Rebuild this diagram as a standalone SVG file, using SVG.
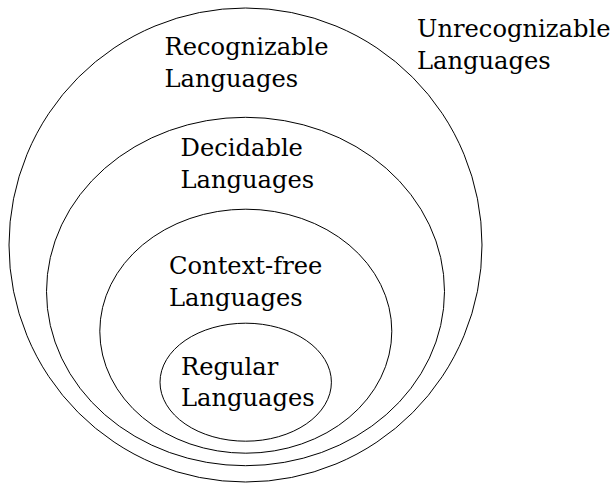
<svg xmlns="http://www.w3.org/2000/svg" width="616" height="483" viewBox="0 0 616 483">
  <style>
    .set { fill: none; stroke: #000; stroke-width: 1; }
    .lbl { font-family: "DejaVu Serif", serif; font-size: 24.2px; fill: #000; }
  </style>
  <rect width="616" height="483" fill="#fff"/>
  <g id="unrecognizable">
    <text class="lbl" x="417" y="37">Unrecognizable</text>
    <text class="lbl" x="417" y="69">Languages</text>
  </g>
  <g id="recognizable">
    <ellipse class="set" cx="245.5" cy="245" rx="236.5" ry="237"/>
    <text class="lbl" x="164.5" y="55">Recognizable</text>
    <text class="lbl" x="164.5" y="87">Languages</text>
  </g>
  <g id="decidable">
    <ellipse class="set" cx="245.5" cy="291.5" rx="199" ry="174.2"/>
    <text class="lbl" x="180.5" y="156">Decidable</text>
    <text class="lbl" x="180.5" y="188">Languages</text>
  </g>
  <g id="context-free">
    <ellipse class="set" cx="245.8" cy="331.2" rx="146" ry="122"/>
    <text class="lbl" x="169" y="274">Context-free</text>
    <text class="lbl" x="169" y="306">Languages</text>
  </g>
  <g id="regular">
    <ellipse class="set" cx="245.7" cy="382.2" rx="85.7" ry="59"/>
    <text class="lbl" x="181" y="375">Regular</text>
    <text class="lbl" x="181" y="406">Languages</text>
  </g>
  <g id="connectors"/>
</svg>
